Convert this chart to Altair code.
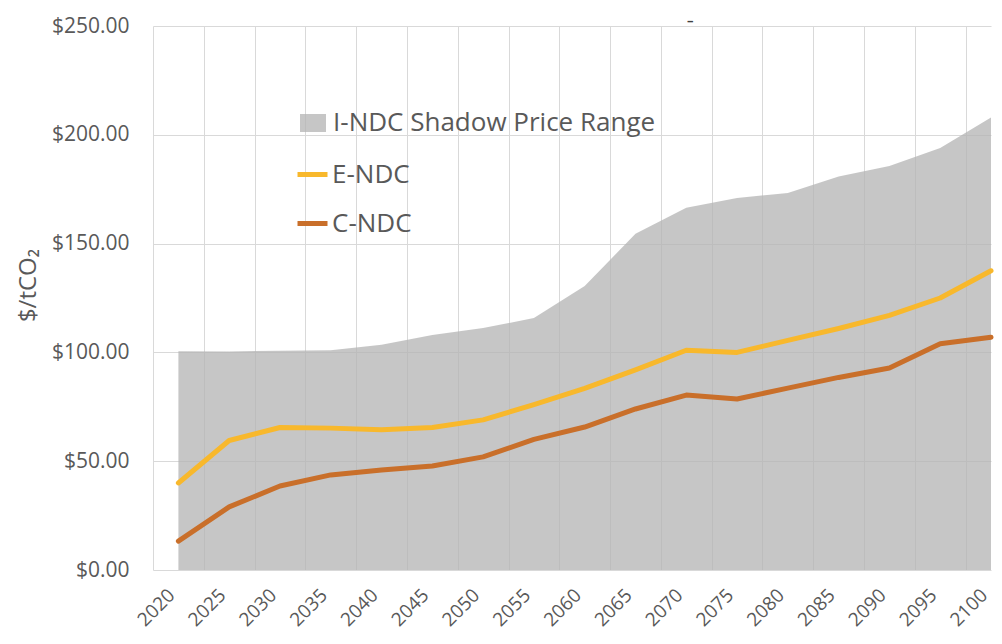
import altair as alt
import pandas as pd

years = [2020, 2025, 2030, 2035, 2040, 2045, 2050, 2055, 2060, 2065, 2070, 2075, 2080, 2085, 2090, 2095, 2100]
indc_range_top = [100.5, 100.4, 100.8, 101.0, 103.5, 108.0, 111.2, 115.8, 130.5, 154.5, 166.5, 171.0, 173.2, 180.8, 185.7, 193.9, 208.0]
endc = [40.0, 59.5, 65.5, 65.2, 64.5, 65.5, 69.0, 76.0, 83.5, 92.0, 101.0, 100.0, 105.5, 111.0, 117.0, 125.0, 137.5]
cndc = [13.3, 29.0, 38.6, 43.7, 46.0, 47.8, 52.0, 60.0, 65.7, 74.0, 80.4, 78.6, 83.6, 88.5, 92.8, 104.0, 107.0]
y_ticks = [0, 50, 100, 150, 200, 250]

range_name = "I-NDC Shadow Price Range"
line_names = ["E-NDC", "C-NDC"]

TEXT = "#595959"
FONT = "Open Sans"

df_area = pd.DataFrame({"year": years, "price": indc_range_top, "range_series": range_name})
df_lines = pd.concat([
    pd.DataFrame({"year": years, "price": endc, "series": "E-NDC"}),
    pd.DataFrame({"year": years, "price": cndc, "series": "C-NDC"}),
])

# category boundaries (for vertical gridlines) plus category centres (for labels)
boundaries = [y - 2.5 for y in years]
x_values = sorted(boundaries + years)

x_enc = alt.X(
    "year:Q",
    scale=alt.Scale(domain=[2017.5, 2100], nice=False, zero=False),
    axis=alt.Axis(
        values=x_values,
        labelExpr="datum.value % 5 === 0 ? '' + datum.value : ''",
        labelAngle=-45,
        labelAlign="right",
        labelBaseline="bottom",
        labelPadding=29,
        labelOverlap=False,
        labelBound=False,
        labelFont=FONT,
        labelFontSize=19,
        labelColor=TEXT,
        ticks=False,
        domain=False,
        grid=True,
        gridColor="#d9d9d9",
        gridWidth=1,
        gridOpacity={"condition": {"test": "datum.value % 5 === 0", "value": 0}, "value": 1},
        title=None,
    ),
)

y_enc = alt.Y(
    "price:Q",
    scale=alt.Scale(domain=[0, 250], nice=False),
    axis=alt.Axis(
        values=y_ticks,
        format="$,.2f",
        labelFont=FONT,
        labelFontSize=21,
        labelColor=TEXT,
        labelPadding=24,
        ticks=False,
        domain=False,
        grid=True,
        gridColor="#d9d9d9",
        gridWidth=1,
        title="$/tCO\u2082",
        titleFont=FONT,
        titleFontSize=24,
        titleFontWeight="normal",
        titleColor=TEXT,
        titleAngle=-90,
        titleAlign="center",
        titleBaseline="alphabetic",
        titleX=-118,
        titleY=259,
    ),
)

area = alt.Chart(df_area).mark_area(opacity=0.76).encode(
    x=x_enc,
    y=y_enc,
    fill=alt.Fill(
        "range_series:N",
        scale=alt.Scale(domain=[range_name], range=["#b4b4b4"]),
        legend=alt.Legend(
            title=None,
            orient="none",
            legendX=147,
            legendY=84,
            padding=0,
            symbolType="M-1.3,-0.9H1.3V0.9H-1.3Z",
            symbolSize=400,
            symbolStrokeWidth=0,
            symbolOpacity=0.76,
            labelFont=FONT,
            labelFontSize=26,
            labelColor=TEXT,
            labelOffset=7,
            labelLimit=600,
        ),
    ),
)

lines = alt.Chart(df_lines).mark_line(strokeWidth=5, strokeJoin="round", strokeCap="round").encode(
    x=x_enc,
    y=y_enc,
    stroke=alt.Stroke(
        "series:N",
        sort=line_names,
        scale=alt.Scale(domain=line_names, range=["#f8b82c", "#c96f2a"]),
        legend=alt.Legend(
            title=None,
            orient="none",
            legendX=142,
            legendY=131,
            padding=0,
            symbolType="stroke",
            symbolSize=900,
            symbolStrokeWidth=5,
            labelFont=FONT,
            labelFontSize=26,
            labelColor=TEXT,
            labelOffset=2,
            labelLimit=600,
            rowPadding=18,
        ),
    ),
)

chart = alt.layer(area, lines).resolve_scale(fill="independent", stroke="independent").properties(
    width=838,
    height=544,
    autosize=alt.AutoSizeParams(type="none"),
    padding={"left": 145, "top": 18, "right": 3, "bottom": 66},
    title=alt.TitleParams(
        text="\u2013",
        anchor="start",
        frame="group",
        dx=534,
        offset=-13,
        baseline="top",
        font=FONT,
        fontSize=13,
        fontWeight="bold",
        color="#404040",
    ),
).configure_view(stroke=None)

chart.save("out.html", embed_options={"renderer": "svg", "actions": False})
